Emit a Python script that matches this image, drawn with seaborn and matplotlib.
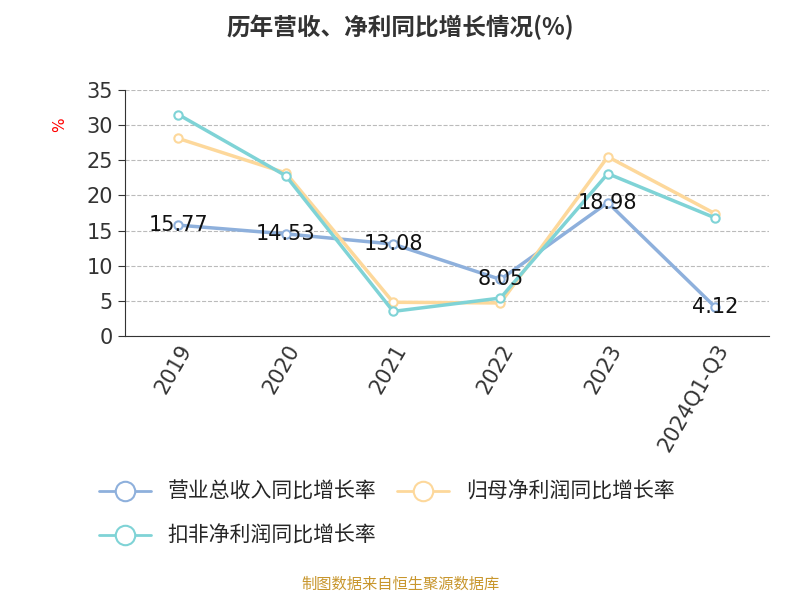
import matplotlib
matplotlib.use('Agg')
import matplotlib.pyplot as plt
import seaborn as sns
import pandas as pd
from matplotlib.lines import Line2D

years = ['2019', '2020', '2021', '2022', '2023', '2024Q1-Q3']
revenue = [15.77, 14.53, 13.08, 8.05, 18.98, 4.12]
net_profit = [28.1, 23.2, 4.8, 4.7, 25.5, 17.4]
deducted = [31.5, 22.8, 3.5, 5.4, 23.1, 16.8]
names = ['营业总收入同比增长率', '归母净利润同比增长率', '扣非净利润同比增长率']
colors = ['#8eb0dc', '#fdd89b', '#7fd3d6']

sns.set_style('white')
plt.rcParams['font.family'] = ['DejaVu Sans', 'Noto Sans CJK SC']

df = pd.DataFrame({'x': list(range(6)) * 3,
                   'v': revenue + net_profit + deducted,
                   's': [names[0]] * 6 + [names[1]] * 6 + [names[2]] * 6})

fig = plt.figure(figsize=(8, 6), dpi=100)
ax = fig.add_axes([0.156, 0.44, 0.805, 0.41])
sns.lineplot(data=df, x='x', y='v', hue='s', palette=colors, ax=ax, lw=2.5,
             marker='o', markersize=6, legend=False)
for line in ax.lines:
    line.set_markerfacecolor('white')
    line.set_markeredgecolor(line.get_color())
    line.set_markeredgewidth(1.5)
for i, v in enumerate(revenue):
    ax.text(i, v, f'{v:.2f}', ha='center', va='center', fontsize=15, color='#111')

ax.set_xlim(-0.5, 5.5)
ax.set_ylim(0, 35)
ax.set_yticks(range(0, 36, 5))
ax.set_xticks(range(6))
ax.set_xticklabels(years, rotation=60, ha='right', rotation_mode='anchor', fontsize=15, color='#333')
ax.tick_params(axis='y', labelsize=15, colors='#333')
ax.set_xlabel('')
ax.set_ylabel('%', color='red', fontsize=11, rotation=90)
ax.yaxis.set_label_coords(-0.09, 0.86)
ax.grid(axis='y', ls='--', color='#bbb')
for s in ['top', 'right']:
    ax.spines[s].set_visible(False)
ax.spines['left'].set_color('#333')
ax.spines['bottom'].set_color('#333')
ax.tick_params(axis='both', length=5, direction='out', bottom=True, left=True)
ax.set_xticks([i + 0.5 for i in range(-1, 6)], minor=True)
ax.tick_params(axis='x', which='major', length=0)
ax.tick_params(axis='x', which='minor', length=6, color='#333')

fig.text(0.5, 0.955, '历年营收、净利同比增长情况(%)', ha='center', va='center', fontsize=17,
         fontweight='bold', color='#333', family=['Noto Sans CJK SC', 'DejaVu Sans'])

cjk = {'family': ['Noto Sans CJK SC', 'DejaVu Sans'], 'size': 15}
h = [Line2D([], [], color=c, lw=2, marker='o', markersize=14, markerfacecolor='white',
            markeredgecolor=c, markeredgewidth=1.5) for c in colors]
fig.legend(h[:2], names[:2], loc='center left', bbox_to_anchor=(0.1, 0.18), ncol=2,
           frameon=False, prop=cjk, columnspacing=1.0, handlelength=2.5)
fig.legend(h[2:], names[2:], loc='center left', bbox_to_anchor=(0.1, 0.107),
           frameon=False, prop=cjk, handlelength=2.5)
fig.text(0.5, 0.018, '制图数据来自恒生聚源数据库', ha='center', fontsize=11, color='#c8962d',
         family=['Noto Sans CJK SC', 'DejaVu Sans'])

fig.savefig('out.png')
